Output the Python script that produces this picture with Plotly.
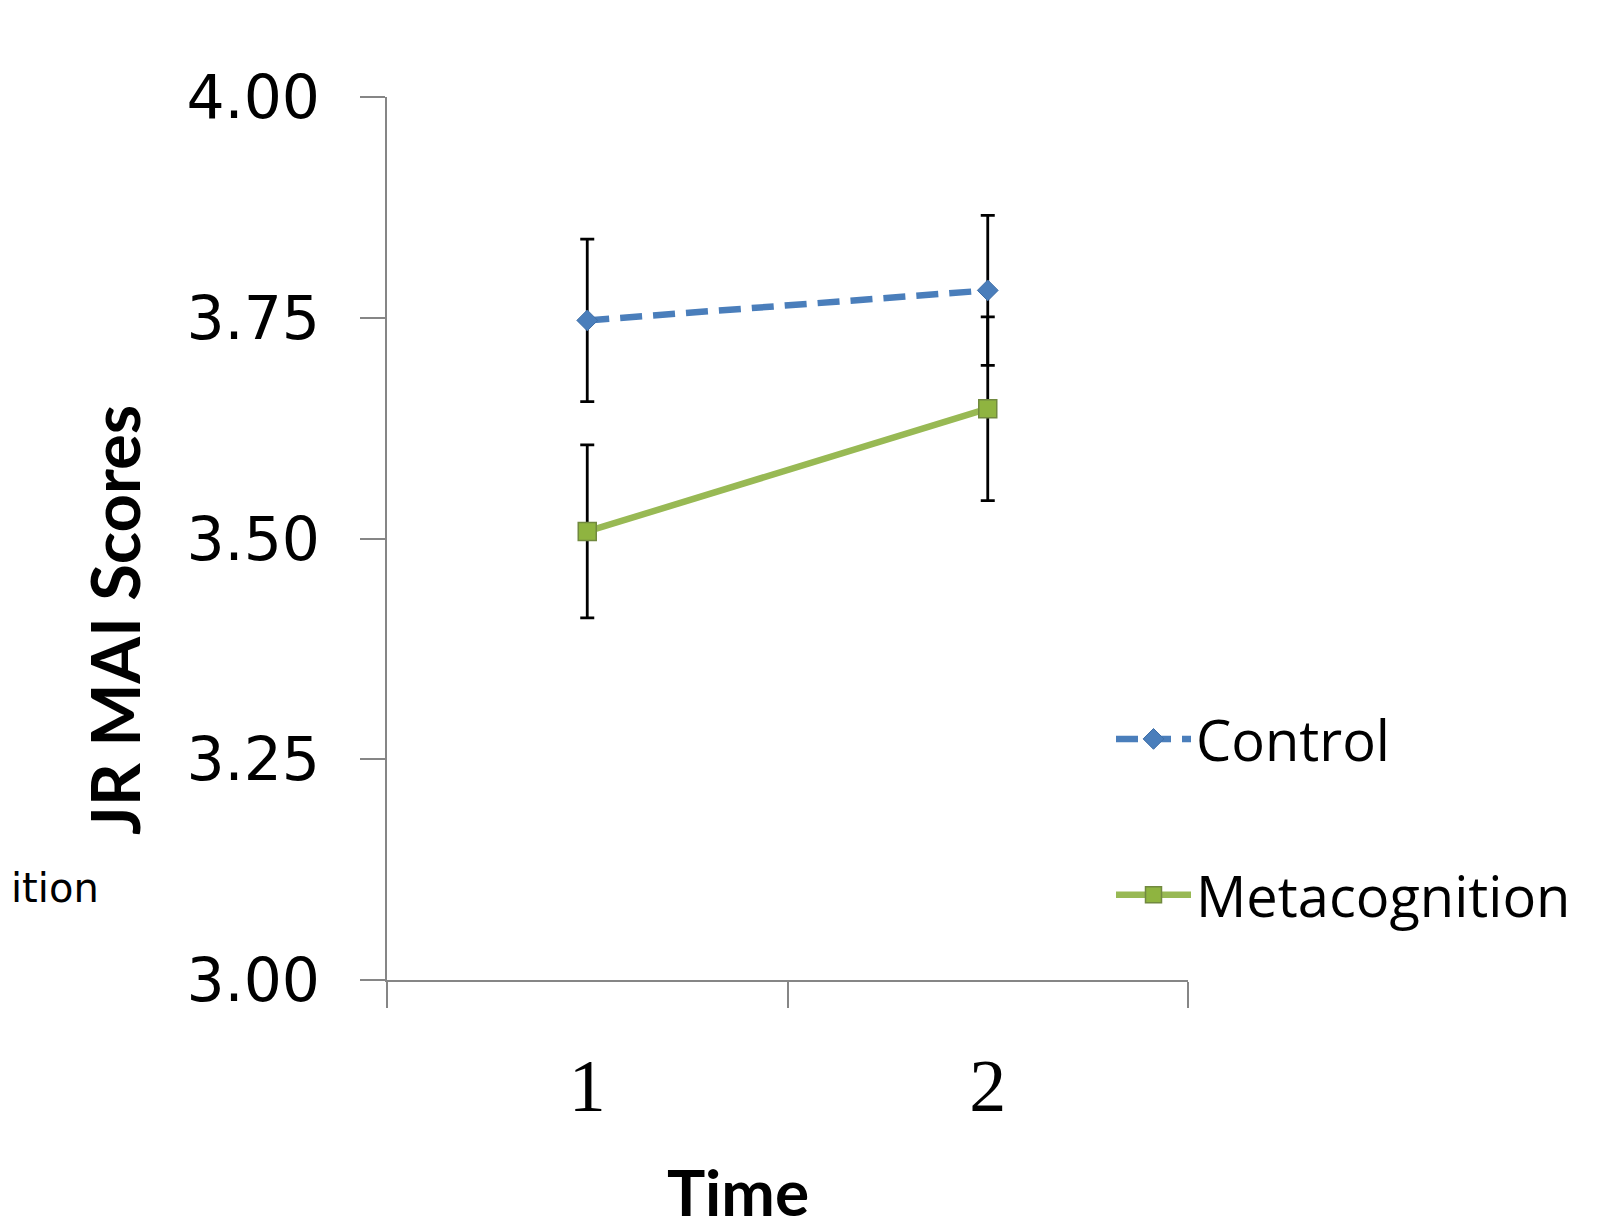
import plotly.graph_objects as go

times = ["1", "2"]
control_mean = [3.747, 3.781]
control_err = [0.092, 0.085]
meta_mean = [3.508, 3.647]
meta_err = [0.098, 0.104]
y_ticks = [3.00, 3.25, 3.50, 3.75, 4.00]
y_tick_text = ["3.00", "3.25", "3.50", "3.75", "4.00"]

OFF = 8  # page body margin
W, H = 1615 - OFF, 1232 - OFF
L, T = 387 - OFF, 97 - OFF
pw, ph = 801, 883
R, B = W - L - pw, H - T - ph


def px_x(x):  # page pixel -> paper
    return (x - OFF - L) / pw


def px_y(y):
    return (T + ph - (y - OFF)) / ph


fig = go.Figure()
fig.add_trace(go.Scatter(
    x=times, y=control_mean, name="Control", mode="lines+markers",
    line=dict(color="#4a7ebb", width=6.5, dash="22px,11px"),
    marker=dict(symbol="diamond", size=16, color="#4a7ebb",
                line=dict(color="#3f6fa8", width=1)),
    error_y=dict(type="data", array=control_err, visible=True,
                 color="black", thickness=2.8, width=7),
    legendgroup="a",
))
fig.add_trace(go.Scatter(
    x=times, y=meta_mean, name="Metacognition", mode="lines+markers",
    line=dict(color="#98b954", width=6.5),
    marker=dict(symbol="square", size=18, color="#8fb440",
                line=dict(color="#71893f", width=1.5)),
    error_y=dict(type="data", array=meta_err, visible=True,
                 color="black", thickness=2.8, width=7),
    legendgroup="b",
))

fig.update_layout(
    width=W, height=H,
    margin=dict(l=L, r=R, t=T, b=B),
    paper_bgcolor="white", plot_bgcolor="white",
    showlegend=True,
    legend=dict(
        x=px_x(1111), y=px_y(696), xanchor="left", yanchor="top",
        font=dict(family="Open Sans", size=56, color="black"),
        tracegroupgap=80, itemwidth=75, bgcolor="rgba(0,0,0,0)",
    ),
    xaxis=dict(
        type="category", range=[-0.5, 1.5], tickson="boundaries",
        showline=True, linecolor="#868686", linewidth=2,
        ticks="outside", ticklen=26, tickwidth=2, tickcolor="#868686",
        showgrid=False, zeroline=False,
        tickfont=dict(family="Liberation Serif", size=74, color="black"),
        ticklabelstandoff=40,
    ),
    yaxis=dict(
        range=[3, 4], tickvals=y_ticks, ticktext=y_tick_text,
        showline=True, linecolor="#868686", linewidth=2,
        ticks="outside", ticklen=25, tickwidth=2, tickcolor="#868686",
        showgrid=False, zeroline=False,
        tickfont=dict(family="DejaVu Sans", size=60, color="black"),
        ticklabelstandoff=28,
    ),
    annotations=[
        dict(text="<b>JR MAI Scores</b>", textangle=-90, xref="paper", yref="paper",
             x=px_x(114), y=px_y(620), xanchor="center", yanchor="middle",
             showarrow=False, font=dict(family="Lato", size=67, color="black")),
        dict(text="<b>Time</b>", xref="paper", yref="paper",
             x=px_x(738), y=(T + ph - H) / ph, xanchor="center", yanchor="bottom",
             showarrow=False, font=dict(family="Lato", size=64, color="black")),
        dict(text="ition", xref="paper", yref="paper",
             x=px_x(9), y=px_y(888), xanchor="left", yanchor="middle",
             showarrow=False, font=dict(family="DejaVu Sans", size=40, color="black")),
    ],
)

fig.write_html("out.html")
